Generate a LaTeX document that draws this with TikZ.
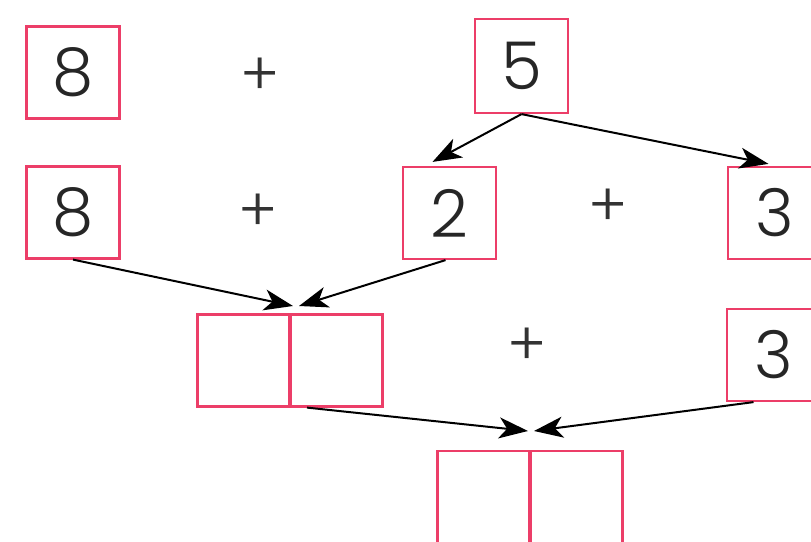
\documentclass[tikz,border=0pt]{standalone}
\usepackage{fontspec}
\newfontfamily\digitfont{Poppins}[UprightFont=* Light]
\usetikzlibrary{arrows.meta,calc}
\definecolor{boxpink}{RGB}{236,62,104}
\tikzset{
  numbox/.style={draw=boxpink, line width=2.2pt, minimum width=93pt, minimum height=92pt, inner sep=0pt, font=\digitfont\fontsize{66}{66}\selectfont, text=black!85},
  plussign/.style={inner sep=0pt, font=\digitfont\fontsize{60}{60}\selectfont, text=black!80},
  conn/.style={line width=2pt, -{Stealth[length=29pt,width=21pt,inset=8pt]}}
}
\begin{document}
\begin{tikzpicture}
\begin{scope}[x=1pt,y=-1pt]
\useasboundingbox (0,0) rectangle (811,541);
\clip (0,0) rectangle (811,541);
% row 1
\node[numbox] (eightA) at (73,72.5) {8};
\node[plussign] (plusA) at (260,77) {+};
\node[numbox, minimum height=94pt] (five) at (521.5,66) {5};
% row 2
\node[numbox] (eightB) at (73,212.5) {8};
\node[plussign] (plusB) at (258,213) {+};
\node[numbox] (two) at (449.5,213) {2};
\node[plussign] (plusC) at (608,208) {+};
\node[numbox] (threeA) at (774.5,213) {3};
% row 3
\node[numbox] (sumAl) at (244,360.5) {};
\node[numbox] (sumAr) at (336,360.5) {};
\node[plussign] (plusD) at (527,347) {+};
\node[numbox] (threeB) at (773.5,355) {3};
% row 4
\node[numbox] (sumBl) at (484,497) {};
\node[numbox] (sumBr) at (576,497) {};
% meeting points
\coordinate (m1) at (296,306);
\coordinate (m2) at (531,431);
\end{scope}
% connectors
\draw[conn] (five.south) -- ([xshift=-17pt,yshift=4pt]two.north);
\draw[conn] (five.south) -- ([xshift=-6pt,yshift=2pt]threeA.north);
\draw[conn] (eightB.south) -- ([xshift=-3pt]m1);
\draw[conn] ([xshift=-4pt]two.south) -- ([xshift=3pt]m1);
\draw[conn] ([xshift=-29pt]sumAr.south) -- ([xshift=-3pt]m2);
\draw[conn] ([xshift=-20pt]threeB.south) -- ([xshift=3pt]m2);
\end{tikzpicture}
\end{document}
